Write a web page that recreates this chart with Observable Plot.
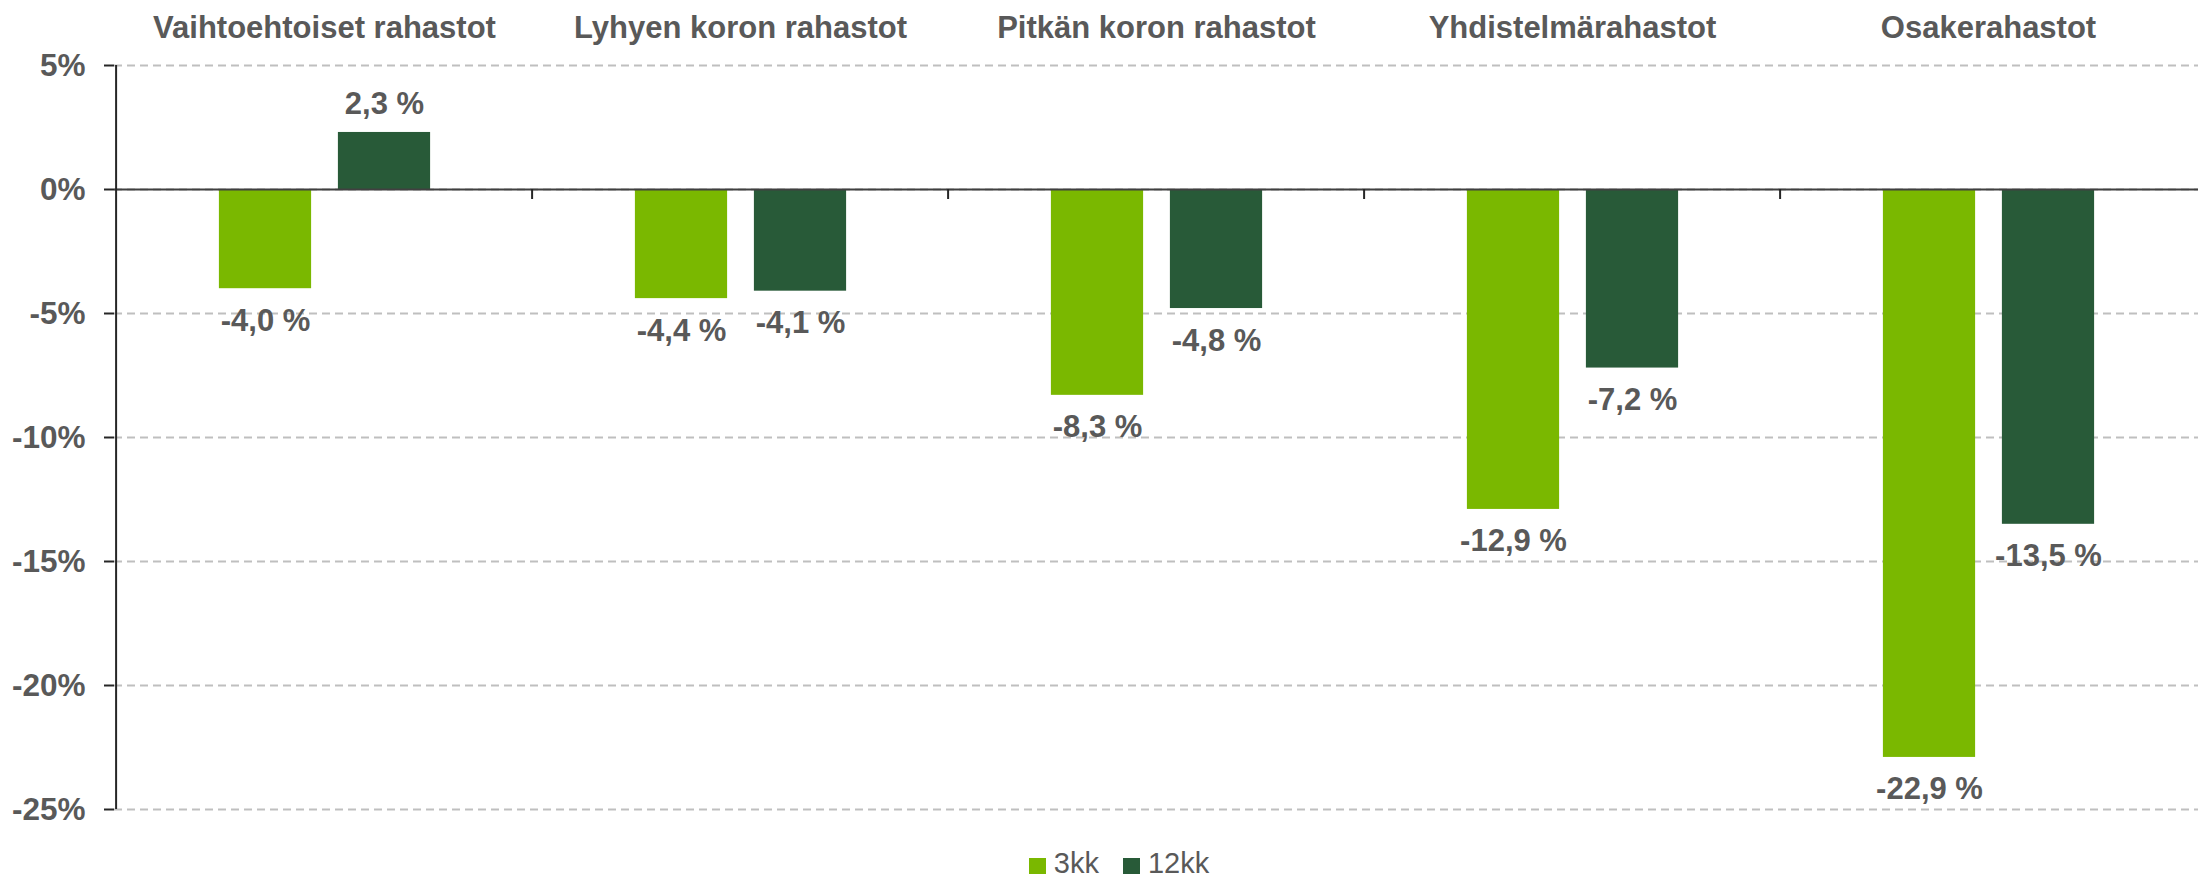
<!DOCTYPE html>
<html>
<head>
<meta charset="utf-8">
<script src="https://cdn.jsdelivr.net/npm/d3@7"></script>
<script src="https://cdn.jsdelivr.net/npm/@observablehq/plot@0.6"></script>
<style>
  html, body { margin: 0; padding: 0; background: #fff; }
  body { font-family: "Liberation Sans", Arial, sans-serif; width: 2198px; }
  #legend { display: flex; justify-content: center; align-items: center; height: 41px;
            font-size: 29px; color: #595959; padding-left: 40px; padding-top: 10px; box-sizing: border-box; }
  #legend .item { display: flex; align-items: center; margin: 0 12px; }
  #legend .sw { width: 17px; height: 16px; margin-right: 8px; margin-top: 4px; }
</style>
</head>
<body>
<div id="chart"></div>
<div id="legend"></div>
<script>
// ---- data ----
const categories = ["Vaihtoehtoiset rahastot", "Lyhyen koron rahastot", "Pitkän koron rahastot", "Yhdistelmärahastot", "Osakerahastot"];
const seriesNames = ["3kk", "12kk"];
const values3kk = [-4.0, -4.4, -8.3, -12.9, -22.9];
const values12kk = [2.3, -4.1, -4.8, -7.2, -13.5];
const yTicks = [5, 0, -5, -10, -15, -20, -25];
const seriesColors = ["#7AB800", "#285A38"];

// ---- layout ----
const W = 2198, H = 838;
const mL = 114, mR = 0, mT = 65, mB = 29;
const bw = (W - mL - mR) / categories.length; // band width
const barW = 93;
const offsets = [-59, 60]; // bar centre offset from band centre

const seriesValues = [values3kk, values12kk];
const rows = seriesNames.map((s, si) => categories.map((c, ci) => ({category: c, series: s, value: seriesValues[si][ci]})));

const fmt = v => v.toFixed(1).replace(".", ",") + " %";

const marks = [
  Plot.gridY(yTicks, {stroke: "#BFBFBF", strokeOpacity: 1, strokeWidth: 2, strokeDasharray: "8,5"})
];
rows.forEach((data, si) => {
  const insetLeft = bw / 2 + offsets[si] - barW / 2;
  const insetRight = bw - insetLeft - barW;
  marks.push(Plot.barY(data, {x: "category", y: "value", fill: seriesColors[si], insetLeft, insetRight}));
});
marks.push(Plot.ruleY([0], {stroke: "#404040", strokeWidth: 2}));
marks.push(Plot.ruleX([categories[0]], {dx: -bw / 2, stroke: "#262626", strokeWidth: 2}));
marks.push(Plot.ruleX(categories.slice(1), {y1: 0, y2: 0, insetBottom: -10, dx: -bw / 2, stroke: "#262626", strokeWidth: 2}));
rows.forEach((data, si) => {
  marks.push(Plot.text(data.filter(d => d.value >= 0), {
    x: "category", y: "value", text: d => fmt(d.value), dx: offsets[si], dy: -18,
    lineAnchor: "bottom", fontSize: 31, fontWeight: "bold", fill: "#595959"
  }));
  marks.push(Plot.text(data.filter(d => d.value < 0), {
    x: "category", y: "value", text: d => fmt(d.value), dx: offsets[si], dy: 20,
    lineAnchor: "top", fontSize: 31, fontWeight: "bold", fill: "#595959"
  }));
});
marks.push(Plot.axisY(yTicks, {tickSize: 10, tickPadding: 19, tickFormat: d => d + "%", fontSize: 31.5,
  fontWeight: "bold", fill: "#595959", stroke: "#262626", strokeWidth: 2, label: null}));
marks.push(Plot.axisX({anchor: "top", tickSize: 0, tickPadding: 28, fontSize: 31, fontWeight: "bold", fill: "#595959", label: null}));

const chart = Plot.plot({
  width: W, height: H,
  marginLeft: mL, marginRight: mR, marginTop: mT, marginBottom: mB,
  style: {fontFamily: '"Liberation Sans", Arial, sans-serif', background: "#fff", overflow: "visible"},
  x: {type: "band", domain: categories, padding: 0, axis: null, label: null},
  y: {domain: [-25, 5], axis: null, label: null},
  marks
});
document.getElementById("chart").appendChild(chart);

// legend
const legend = document.getElementById("legend");
seriesNames.forEach((s, i) => {
  const item = document.createElement("div");
  item.className = "item";
  const sw = document.createElement("span");
  sw.className = "sw";
  sw.style.background = seriesColors[i];
  const t = document.createElement("span");
  t.textContent = s;
  item.appendChild(sw); item.appendChild(t);
  legend.appendChild(item);
});
</script>
</body>
</html>
